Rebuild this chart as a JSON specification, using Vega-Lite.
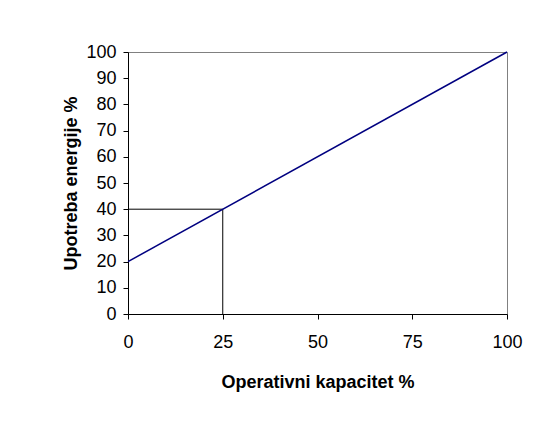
{
  "$schema": "https://vega.github.io/schema/vega-lite/v6.json",
  "width": 379,
  "height": 262,
  "autosize": {"type": "none"},
  "padding": {"left": 128, "top": 52, "right": 39, "bottom": 109},
  "background": "white",
  "config": {
    "view": {"stroke": "#808080", "strokeWidth": 1},
    "axis": {
      "domainColor": "black",
      "tickColor": "black",
      "labelColor": "black",
      "titleColor": "black",
      "labelFont": "Liberation Sans",
      "titleFont": "Liberation Sans",
      "labelFontSize": 18,
      "titleFontSize": 18,
      "titleFontWeight": "bold",
      "grid": false,
      "tickSize": 5,
      "labelFlush": false,
      "labelOverlap": false
    }
  },
  "datasets": {
    "line": [{"x": 0, "y": 20}, {"x": 100, "y": 100}],
    "guides": [
      {"x": 0, "x2": 25, "y": 40, "y2": 40},
      {"x": 25, "x2": 25, "y": 0, "y2": 40}
    ]
  },
  "layer": [
    {
      "data": {"name": "guides"},
      "mark": {"type": "rule", "color": "black", "strokeWidth": 1},
      "encoding": {
        "x": {"field": "x", "type": "quantitative", "scale": {"domain": [0, 100], "nice": false}},
        "x2": {"field": "x2"},
        "y": {"field": "y", "type": "quantitative", "scale": {"domain": [0, 100], "nice": false}},
        "y2": {"field": "y2"}
      }
    },
    {
      "data": {"name": "line"},
      "mark": {"type": "line", "color": "#000080", "strokeWidth": 1.5},
      "encoding": {
        "x": {
          "field": "x", "type": "quantitative",
          "scale": {"domain": [0, 100], "nice": false},
          "axis": {"title": "Operativni kapacitet %", "values": [0, 25, 50, 75, 100], "labelPadding": 14, "titlePadding": 22, "labelOverlap": false}
        },
        "y": {
          "field": "y", "type": "quantitative",
          "scale": {"domain": [0, 100], "nice": false},
          "axis": {"title": "Upotreba energije %", "values": [0, 10, 20, 30, 40, 50, 60, 70, 80, 90, 100], "tickCount": 11, "labelPadding": 7, "titlePadding": 5, "labelOverlap": false}
        }
      }
    }
  ]
}
